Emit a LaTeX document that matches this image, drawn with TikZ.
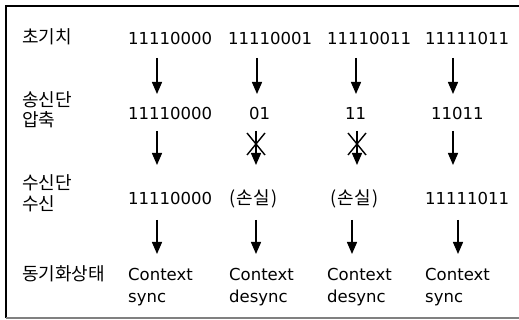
\documentclass[tikz,border=0pt]{standalone}
\usepackage{fontspec}
\setmainfont{DejaVu Sans}
\newfontfamily\kr{Noto Sans CJK KR}
\usetikzlibrary{arrows.meta}
\tikzset{
  kor/.style={font=\kr\fontsize{18}{18}\selectfont, anchor=base west, inner sep=0pt},
  val/.style={font=\fontsize{16.5}{16.5}\selectfont, anchor=base west, inner sep=0pt},
  flow/.style={line width=1.4pt, -{Triangle[width=10pt,length=12pt]}},
  lost/.style={line width=1.4pt},
  frameline/.style={line width=1.8pt}
}
\begin{document}
\begin{tikzpicture}[x=1pt,y=-1pt]
  \useasboundingbox (0,0) rectangle (519,320);
  % sunken frame
  \draw[frameline, black] (6,318) -- (6,6) -- (519,6);
  \draw[frameline, gray] (6,318) -- (519,318);

  % row labels
  \node[kor] (l1)  at (22,44)  {초기치};
  \node[kor] (l2a) at (22,107) {송신단};
  \node[kor] (l2b) at (22,127) {압축};
  \node[kor] (l3a) at (22,190) {수신단};
  \node[kor] (l3b) at (22,211) {수신};
  \node[kor] (l4)  at (22,280) {동기화상태};

  % initial values
  \node[val] (v11) at (128,45) {11110000};
  \node[val] (v12) at (228,45) {11110001};
  \node[val] (v13) at (327,45) {11110011};
  \node[val] (v14) at (425,45) {11111011};

  % compressed at sender
  \node[val] (v21) at (128,120) {11110000};
  \node[val] (v22) at (249,120) {01};
  \node[val] (v23) at (345,120) {11};
  \node[val] (v24) at (431,120) {11011};

  % received
  \node[val] (v31) at (128,205) {11110000};
  \node[kor] (v32) at (229,205) {(\kern1.5pt 손실\kern1.5pt)};
  \node[kor] (v33) at (330,205) {(\kern1.5pt 손실\kern1.5pt)};
  \node[val] (v34) at (425,205) {11111011};

  % sync state
  \node[val] (c1) at (128,280) {Context};
  \node[val] (c2) at (229,280) {Context};
  \node[val] (c3) at (327,280) {Context};
  \node[val] (c4) at (425,280) {Context};
  \node[val] (s1) at (128,302) {sync};
  \node[val] (s2) at (229,302) {desync};
  \node[val] (s3) at (327,302) {desync};
  \node[val] (s4) at (425,302) {sync};

  % arrow end points
  \coordinate (a1t1) at (157,58);  \coordinate (a1b1) at (157,94);
  \coordinate (a1t2) at (257,58);  \coordinate (a1b2) at (257,94);
  \coordinate (a1t3) at (356,58);  \coordinate (a1b3) at (356,94);
  \coordinate (a1t4) at (453,58);  \coordinate (a1b4) at (453,94);
  \coordinate (a2t1) at (157,131); \coordinate (a2b1) at (157,165);
  \coordinate (a2t2) at (256,131); \coordinate (a2b2) at (256,165);
  \coordinate (a2t3) at (357,131); \coordinate (a2b3) at (357,165);
  \coordinate (a2t4) at (453,131); \coordinate (a2b4) at (453,165);
  \coordinate (a3t1) at (157,220); \coordinate (a3b1) at (157,254);
  \coordinate (a3t2) at (256,220); \coordinate (a3b2) at (256,254);
  \coordinate (a3t3) at (352,220); \coordinate (a3b3) at (352,254);
  \coordinate (a3t4) at (458,220); \coordinate (a3b4) at (458,254);

  \foreach \r in {1,2,3}
    \foreach \c in {1,2,3,4}
      \draw[flow] (a\r t\c) -- (a\r b\c);

  % lost packets
  \coordinate (x2a) at (247,133); \coordinate (x2b) at (265,155);
  \coordinate (x2c) at (265,133); \coordinate (x2d) at (247,155);
  \coordinate (x3a) at (348,133); \coordinate (x3b) at (366,155);
  \coordinate (x3c) at (366,133); \coordinate (x3d) at (348,155);
  \draw[lost] (x2a) -- (x2b) (x2c) -- (x2d);
  \draw[lost] (x3a) -- (x3b) (x3c) -- (x3d);
\end{tikzpicture}
\end{document}
